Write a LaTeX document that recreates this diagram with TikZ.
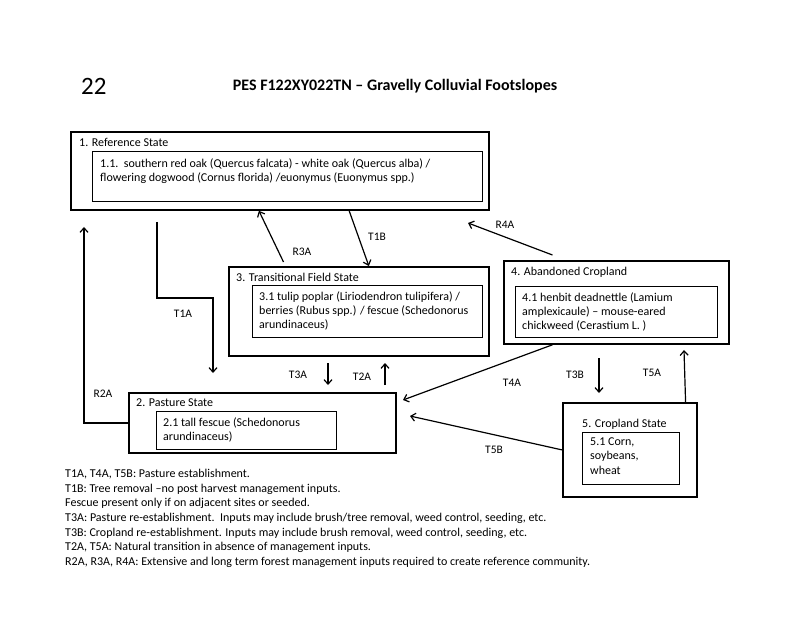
\documentclass[tikz,border=0pt]{standalone}
\usepackage{fontspec}
\setmainfont{Carlito}
\usetikzlibrary{arrows.meta,calc}
\begin{document}
\begin{tikzpicture}[x=1pt,y=-1pt,
  outerbox/.style={draw, line width=1.8pt, inner sep=0pt, anchor=north west},
  innerbox/.style={draw, line width=1.1pt, inner sep=0pt, anchor=north west},
  txt/.style={inner sep=0pt, anchor=north west, align=left, font=\fontsize{12}{14}\selectfont},
  lbl/.style={inner sep=0pt, font=\fontsize{11.5}{13}\selectfont},
  arr/.style={line width=1.2pt, -{Straight Barb[length=4.5pt,width=8pt]}}]
\useasboundingbox (0,0) rectangle (800,617);
\fill[white] (0,0) rectangle (800,617);

% titles
\node[inner sep=0pt, anchor=base west, font=\fontsize{25}{30}\selectfont] (num) at (81,95) {22};
\node[inner sep=0pt, anchor=base, font=\fontsize{16}{19}\selectfont\bfseries] (title) at (395,91) {PES F122XY022TN -- Gravelly Colluvial Footslopes};

% boxes
\node[outerbox, minimum width=418pt, minimum height=78pt] (s1) at (70,131) {};
\node[innerbox, minimum width=390pt, minimum height=50pt] (i1) at (92,151) {};
\node[txt] (l1) at (79,138.5) {1. Reference State};
\node[txt] (t1) at (100,158.5) {1.1.\ \ southern red oak (Quercus falcata) - white oak (Quercus alba) /\\flowering dogwood (Cornus florida) /euonymus (Euonymus spp.)};

\node[outerbox, minimum width=260pt, minimum height=89pt] (s3) at (228,266) {};
\node[innerbox, minimum width=230pt, minimum height=52pt] (i3) at (252,285) {};
\node[txt] (l3) at (236,272.5) {3. Transitional Field State};
\node[txt] (t3) at (259,291.5) {3.1 tulip poplar (Liriodendron tulipifera) /\\berries (Rubus spp.) / fescue (Schedonorus\\arundinaceus)};

\node[outerbox, minimum width=225pt, minimum height=83pt] (s4) at (503,260) {};
\node[innerbox, minimum width=202pt, minimum height=51pt] (i4) at (515,286) {};
\node[txt] (l4) at (511,266.5) {4. Abandoned Cropland};
\node[txt] (t4) at (522,292.5) {4.1 henbit deadnettle (Lamium\\amplexicaule) -- mouse-eared\\chickweed (Cerastium L. )};

\node[outerbox, minimum width=267pt, minimum height=60pt] (s2) at (128,392) {};
\node[innerbox, minimum width=180pt, minimum height=38pt] (i2) at (156,411) {};
\node[txt] (l2) at (136,398.5) {2. Pasture State};
\node[txt] (t2) at (163,417.5) {2.1 tall fescue (Schedonorus\\arundinaceus)};

\node[outerbox, minimum width=134pt, minimum height=94pt] (s5) at (562,402) {};
\node[innerbox, minimum width=97pt, minimum height=52pt] (i5) at (582,432) {};
\node[txt] (l5) at (582,418.5) {5. Cropland State};
\node[txt, font=\fontsize{12}{14.5}\selectfont] (t5) at (590,437.5) {5.1 Corn,\\soybeans,\\wheat};

% free coordinates
\coordinate (t1aStart) at (157,222);
\coordinate (t1aMid) at (213,298);
\coordinate (t1aEnd) at (213,373);
\coordinate (r2aEnd) at (84,227);
\coordinate (r4aEnd) at (468,223);
\coordinate (t3aStart) at (328,363);
\coordinate (t3aEnd) at (328,385);
\coordinate (t2aStart) at (385,385);
\coordinate (t2aEnd) at (385,363);
\coordinate (t4aEnd) at (403,400);
\coordinate (t5bEnd) at (410,416);
\coordinate (t3bStart) at (599,358);
\coordinate (t3bEnd) at (599,393);
\coordinate (t5aEnd) at (684,350);

% connectors
\draw[arr] (t1aStart) |- (t1aMid) -- (t1aEnd);
\draw[arr] (s2.west) -| (r2aEnd);
\draw[arr] ($(s3.north west)!0.212!(s3.north east)+(0,-4)$) -- ($(s1.south west)!0.45!(s1.south east)$);
\draw[arr] ($(s1.south west)!0.665!(s1.south east)$) -- ($(s3.north west)!0.538!(s3.north east)$);
\draw[arr] ($(s4.north west)!0.218!(s4.north east)+(0,-5)$) -- (r4aEnd);
\draw[arr] (t3aStart) -- (t3aEnd);
\draw[arr] (t2aStart) -- (t2aEnd);
\draw[arr] ($(s4.south west)!0.218!(s4.south east)$) -- (t4aEnd);
\draw[arr] (s5.west) -- (t5bEnd);
\draw[arr] (t3bStart) -- (t3bEnd);
\draw[arr] ($(s5.north west)!0.91!(s5.north east)$) -- (t5aEnd);

% connector labels
\node[lbl] (lt1a) at (183,314) {T1A};
\node[lbl] (lr2a) at (103,394) {R2A};
\node[lbl] (lr3a) at (302,252) {R3A};
\node[lbl] (lt1b) at (377,237) {T1B};
\node[lbl] (lr4a) at (505,225) {R4A};
\node[lbl] (lt3a) at (298,375) {T3A};
\node[lbl] (lt2a) at (362,377) {T2A};
\node[lbl] (lt4a) at (512,383) {T4A};
\node[lbl] (lt3b) at (575,375) {T3B};
\node[lbl] (lt5a) at (652,373) {T5A};
\node[lbl] (lt5b) at (494,450) {T5B};

% legend
\node[inner sep=0pt, anchor=north west, align=left, font=\fontsize{12}{14.65}\selectfont] (legend) at (65,469) {T1A, T4A, T5B: Pasture establishment.\\
T1B: Tree removal --no post harvest management inputs.\\
Fescue present only if on adjacent sites or seeded.\\
T3A: Pasture re-establishment.\ \ Inputs may include brush/tree removal, weed control, seeding, etc.\\
T3B: Cropland re-establishment. Inputs may include brush removal, weed control, seeding, etc.\\
T2A, T5A: Natural transition in absence of management inputs.\\
R2A, R3A, R4A: Extensive and long term forest management inputs required to create reference community.};
\end{tikzpicture}
\end{document}
